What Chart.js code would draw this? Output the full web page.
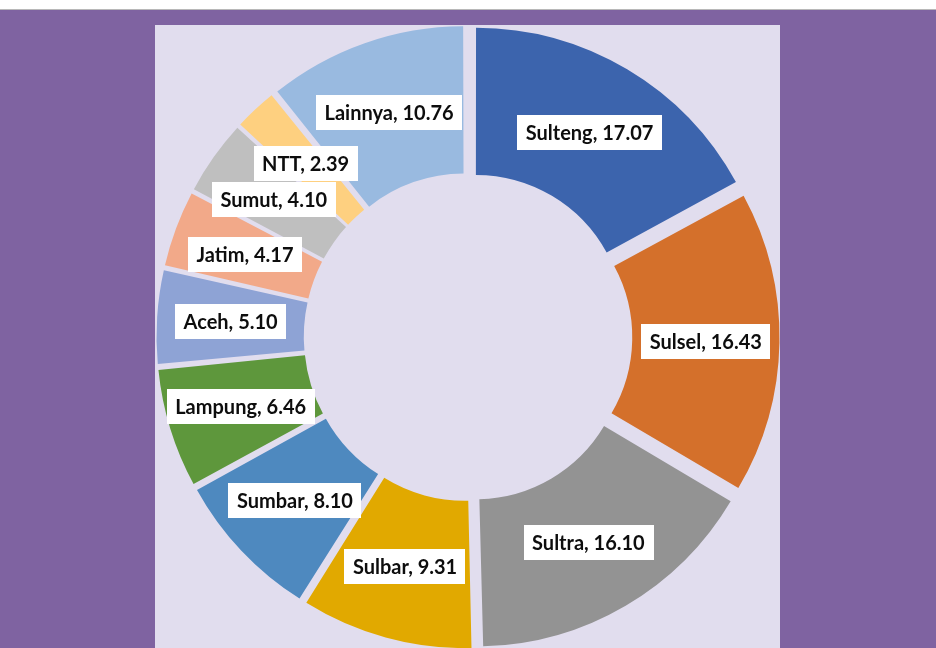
<!DOCTYPE html>
<html>
<head>
<meta charset="utf-8">
<script src="https://cdn.jsdelivr.net/npm/chart.js@4.4.0/dist/chart.umd.min.js"></script>
<style>
  body { margin: 0; width: 936px; height: 648px; overflow: hidden; background: #7f63a1; position: relative; }
  #top { position: absolute; left: 0; top: 0; width: 936px; height: 9px; background: #fff; border-bottom: 1px solid #b8b8b8; }
  #panel { position: absolute; left: 155px; top: 25px; width: 625px; height: 623px; background: #e1ddee; }
  canvas { position: absolute; left: 0; top: 0; }
</style>
</head>
<body>
<div id="top"></div>
<div id="panel"></div>
<canvas id="pie" width="936" height="648"></canvas>
<script>
// data
const regions = ["Sulteng", "Sulsel", "Sultra", "Sulbar", "Sumbar", "Lampung", "Aceh", "Jatim", "Sumut", "NTT", "Lainnya"];
const shares = [17.07, 16.43, 16.10, 9.31, 8.10, 6.46, 5.10, 4.17, 4.10, 2.39, 10.76];
const colors = ["#3c64ad", "#d4702b", "#939393", "#e1a900", "#4e89bf", "#5e973c",
                "#8ea3d5", "#f2a989", "#bfbfbf", "#fed080", "#99bae0"];

// every slice pulled out by the same amount
const SHIFT = 17;
const total = shares.reduce((s, v) => s + v, 0);

// chart.js translates an arc by offset/4 * (2 - sin(circumference)),
// so pick the offset that gives SHIFT px for each slice
function sliceOffset(ctx) {
  let c = 2 * Math.PI * shares[ctx.dataIndex] / total;
  return 4 * SHIFT / (2 - Math.sin(Math.min(Math.PI, c)));
}

// white label boxes at the middle of each slice
const boxLabels = {
  id: "boxLabels",
  afterDatasetsDraw(chart) {
    const ctx = chart.ctx;
    const arcs = chart.getDatasetMeta(0).data;
    ctx.save();
    ctx.font = "bold 20px Lato";
    ctx.textAlign = "center";
    ctx.textBaseline = "middle";
    for (let i = 0; i < arcs.length; i++) {
      let a = arcs[i];
      let mid = (a.startAngle + a.endAngle) / 2;
      let r = (a.innerRadius + a.outerRadius) / 2 + SHIFT;
      let x = a.x + Math.cos(mid) * r;
      let y = a.y + Math.sin(mid) * r;
      let txt = regions[i] + ", " + shares[i].toFixed(2);
      let w = ctx.measureText(txt).width + 17;
      let h = 35;
      ctx.fillStyle = "#ffffff";
      ctx.fillRect(Math.round(x - w / 2), Math.round(y - h / 2), Math.round(w), h);
      ctx.fillStyle = "#0d0d0d";
      ctx.fillText(txt, x, y + 1);
    }
    ctx.restore();
  }
};

new Chart(document.getElementById("pie"), {
  type: "doughnut",
  data: {
    labels: regions,
    datasets: [{
      data: shares,
      backgroundColor: colors,
      borderWidth: 0,
      offset: sliceOffset,
      radius: 294.5
    }]
  },
  options: {
    responsive: false,
    animation: false,
    cutout: "50%",
    layout: { padding: { top: 34, bottom: 8 } },
    plugins: {
      legend: { display: false },
      tooltip: { enabled: false }
    }
  },
  plugins: [boxLabels]
});
</script>
</body>
</html>
